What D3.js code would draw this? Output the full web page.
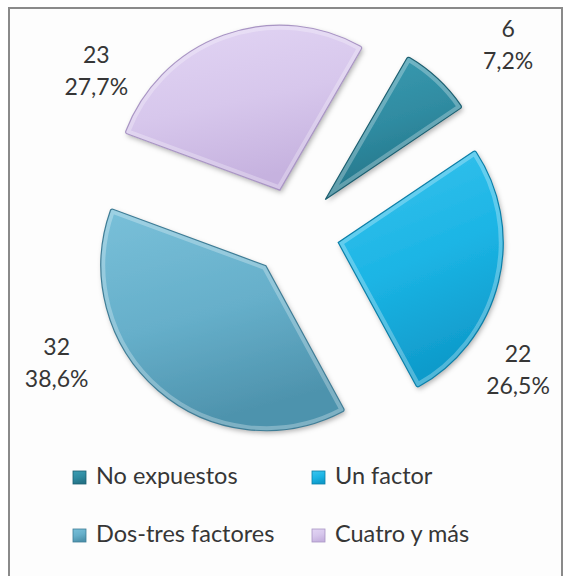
<!DOCTYPE html>
<html>
<head>
<meta charset="utf-8">
<script src="https://cdn.jsdelivr.net/npm/d3@7"></script>
<style>
  body { margin: 0; background: #fff; }
  text { font-family: Lato, "Open Sans", sans-serif; fill: #363636; }
</style>
</head>
<body>
<div id="chart"></div>
<script>
// data
var categories = ["No expuestos", "Un factor", "Dos-tres factores", "Cuatro y más"];
var counts = [6, 22, 32, 23];

// styling
var sliceColors = {
  base: ["#2f8ba1", "#1cb5e5", "#66afca", "#d7c7ec"],
  light: ["#3c9db3", "#3cc4ee", "#79c0d9", "#e2d5f4"],
  dark: ["#247386", "#0f9bcb", "#4e93ad", "#c6b2df"],
  edge: ["#1c5f70", "#0b7fa8", "#3f7d96", "#a995c4"]
};

// label placement, polar (degrees clockwise from top, px) around the pie centre
var labelSpots = [[47.5, 289], [120.2, 258], [242.8, 268], [310.4, 261]];

var width = 567, height = 576;
var cx = 295, cy = 232, radius = 165, explode = 44.5;
var startDeg = 30;
var toRad = Math.PI / 180;

var svg = d3.select("#chart").append("svg")
  .attr("width", width)
  .attr("height", height);

var defs = svg.append("defs");

var shadow = defs.append("filter").attr("id", "shadow")
  .attr("x", "-20%").attr("y", "-20%").attr("width", "140%").attr("height", "140%");
shadow.append("feDropShadow")
  .attr("dx", 1.5).attr("dy", 2.5).attr("stdDeviation", 2.5)
  .attr("flood-color", "#000").attr("flood-opacity", 0.3);

categories.forEach(function (c, i) {
  var g = defs.append("linearGradient").attr("id", "grad" + i)
    .attr("x1", 0).attr("y1", 0).attr("x2", 0.3).attr("y2", 1);
  g.append("stop").attr("offset", "0%").attr("stop-color", sliceColors.light[i]);
  g.append("stop").attr("offset", "55%").attr("stop-color", sliceColors.base[i]);
  g.append("stop").attr("offset", "100%").attr("stop-color", sliceColors.dark[i]);
});

// frame
svg.append("rect")
  .attr("x", 9).attr("y", 8)
  .attr("width", 553).attr("height", 620)
  .attr("fill", "#fdfdfd")
  .attr("stroke", "#8a8a8a")
  .attr("stroke-width", 2);

var pie = d3.pie().sort(null)
  .startAngle(startDeg * toRad)
  .endAngle((startDeg + 360) * toRad);
var arc = d3.arc().innerRadius(0).outerRadius(radius).cornerRadius(2);
var arcs = pie(counts);

var pieG = svg.append("g").attr("transform", "translate(" + cx + "," + cy + ")");

var slices = pieG.selectAll("g.slice")
  .data(arcs)
  .join("g")
  .attr("class", "slice")
  .attr("transform", function (d) {
    var p = d3.pointRadial((d.startAngle + d.endAngle) / 2, explode);
    return "translate(" + p[0] + "," + p[1] + ")";
  });

slices.append("clipPath")
  .attr("id", function (d, i) { return "clip" + i; })
  .append("path")
  .attr("d", arc);

slices.append("path")
  .attr("d", arc)
  .attr("fill", function (d, i) { return "url(#grad" + i + ")"; })
  .attr("filter", "url(#shadow)");

// soft bevel highlight along the edges
slices.append("path")
  .attr("d", arc)
  .attr("fill", "none")
  .attr("stroke", "#fff")
  .attr("stroke-opacity", 0.28)
  .attr("stroke-width", 9)
  .attr("clip-path", function (d, i) { return "url(#clip" + i + ")"; });

slices.append("path")
  .attr("d", arc)
  .attr("fill", "none")
  .attr("stroke", function (d, i) { return sliceColors.edge[i]; })
  .attr("stroke-width", 1.2);

// value labels
var total = d3.sum(counts);
var pct = function (v) { return d3.format(".1f")(v / total * 100).replace(".", ",") + "%"; };

var labels = pieG.selectAll("text.lbl")
  .data(arcs)
  .join("text")
  .attr("class", "lbl")
  .attr("text-anchor", "middle")
  .style("font-size", "23px")
  .attr("transform", function (d, i) {
    var p = d3.pointRadial(labelSpots[i][0] * toRad, labelSpots[i][1]);
    return "translate(" + p[0] + "," + p[1] + ")";
  });
labels.append("tspan").attr("x", 0).attr("y", 0).text(function (d) { return d.data; });
labels.append("tspan").attr("x", 0).attr("y", 32).text(function (d) { return pct(d.data); });

// legend, 2 x 2
var legend = svg.append("g");
var colX = d3.scaleOrdinal().domain([0, 1]).range([73, 312]);
var rowY = d3.scaleOrdinal().domain([0, 1]).range([484, 542]);

var items = legend.selectAll("g.item")
  .data(categories)
  .join("g")
  .attr("class", "item")
  .attr("transform", function (d, i) {
    return "translate(" + colX(i % 2) + "," + rowY(Math.floor(i / 2)) + ")";
  });

items.append("rect")
  .attr("x", 0).attr("y", -13)
  .attr("width", 13).attr("height", 13)
  .attr("fill", function (d, i) { return "url(#grad" + i + ")"; })
  .attr("stroke", function (d, i) { return sliceColors.edge[i]; })
  .attr("stroke-width", 0.8);

items.append("text")
  .attr("x", 23).attr("y", 0)
  .style("font-size", "23.5px")
  .text(function (d) { return d; });
</script>
</body>
</html>
